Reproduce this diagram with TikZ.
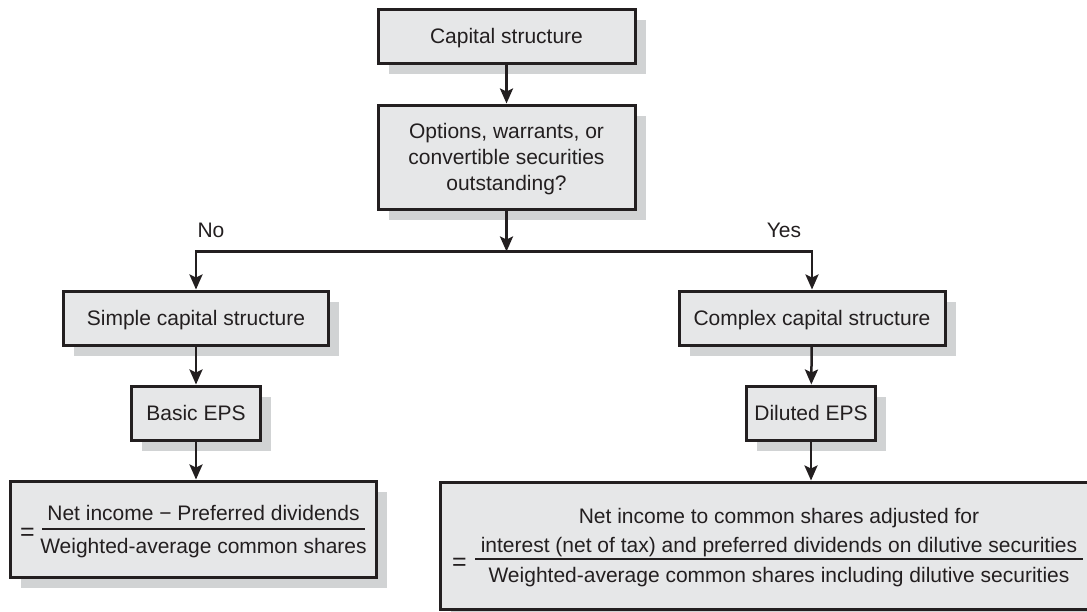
\documentclass[tikz,border=0pt]{standalone}
\usepackage{fontspec}
\setmainfont{Liberation Sans}
\usetikzlibrary{arrows.meta,shadows}
\definecolor{boxfill}{HTML}{E6E7E8}
\definecolor{shadowgray}{HTML}{D1D3D4}
\definecolor{ink}{HTML}{231F20}
\begin{document}
\begin{tikzpicture}[x=1pt,y=-1pt,
  every node/.style={font=\fontsize{21}{26}\selectfont, text=ink},
  box/.style={draw=ink, fill=boxfill, line width=3pt, inner sep=0pt, rectangle,
     drop shadow={shadow xshift=10.5pt, shadow yshift=-10.5pt, fill=shadowgray, opacity=1}},
  single/.style={text height=15pt, text depth=0pt},
  eqsign/.style={anchor=base, font=\fontsize{25}{26}\selectfont},
  arrow/.style={draw=ink, line width=2.5pt, -{Stealth[length=15pt,width=13pt,inset=3pt]}},
  fracbar/.style={draw=ink, line width=1.5pt},
]
\path[use as bounding box] (0,0) rectangle (1087,611);
\clip (0,0) rectangle (1087,611);

% boxes
\node[box, single, minimum width=257pt, minimum height=54pt] (cap) at (506.5,36) {Capital structure};
\node[box, align=center, text depth=0pt, minimum width=257pt, minimum height=104pt] (opt) at (506.5,157)
  {Options, warrants, or\\convertible securities\\outstanding?};
\node[box, single, minimum width=265pt, minimum height=54pt] (simple) at (196,318) {Simple capital structure};
\node[box, single, minimum width=129pt, minimum height=54pt] (basic) at (196,413) {Basic EPS};
\node[box, minimum width=366pt, minimum height=96pt] (leftf) at (193,529) {};
\node[box, single, minimum width=266pt, minimum height=54pt] (complex) at (812,318) {Complex capital structure};
\node[box, single, minimum width=129pt, minimum height=54pt] (diluted) at (811,413) {Diluted EPS};
\node[box, minimum width=680pt, minimum height=127pt] (rightf) at (780,545.5) {};

% labels
\node[single] (no) at (211,230) {No};
\node[single] (yes) at (784,230) {Yes};

% connectors
\coordinate (split) at (506.5,251.5);
\draw[arrow] (cap) -- (opt);
\draw[arrow] (opt.south) -- (split);
\draw[arrow] (split) -| (simple.north);
\draw[arrow] (split) -| (complex.north);
\draw[arrow] (simple) -- (basic);
\draw[arrow] (complex) -- (diluted);
\draw[arrow] (basic.south) -- (basic.south |- leftf.north);
\draw[arrow] (diluted.south) -- (diluted.south |- rightf.north);

% left formula
\node[eqsign] (leq) at (27.5,540) {=};
\node[anchor=base] (lnum) at (203.5,520) {Net income − Preferred dividends};
\node[anchor=base] (lden) at (203.5,553) {Weighted-average common shares};
\draw[fracbar] (42,529) -- (365,529);

% right formula
\node[eqsign] (req) at (459.5,570) {=};
\node[anchor=base] (rnum1) at (779,523) {Net income to common shares adjusted for};
\node[anchor=base] (rnum2) at (779,552) {interest (net of tax) and preferred dividends on dilutive securities};
\node[anchor=base] (rden) at (779,582) {Weighted-average common shares including dilutive securities};
\draw[fracbar] (475,559) -- (1083,559);
\end{tikzpicture}
\end{document}
